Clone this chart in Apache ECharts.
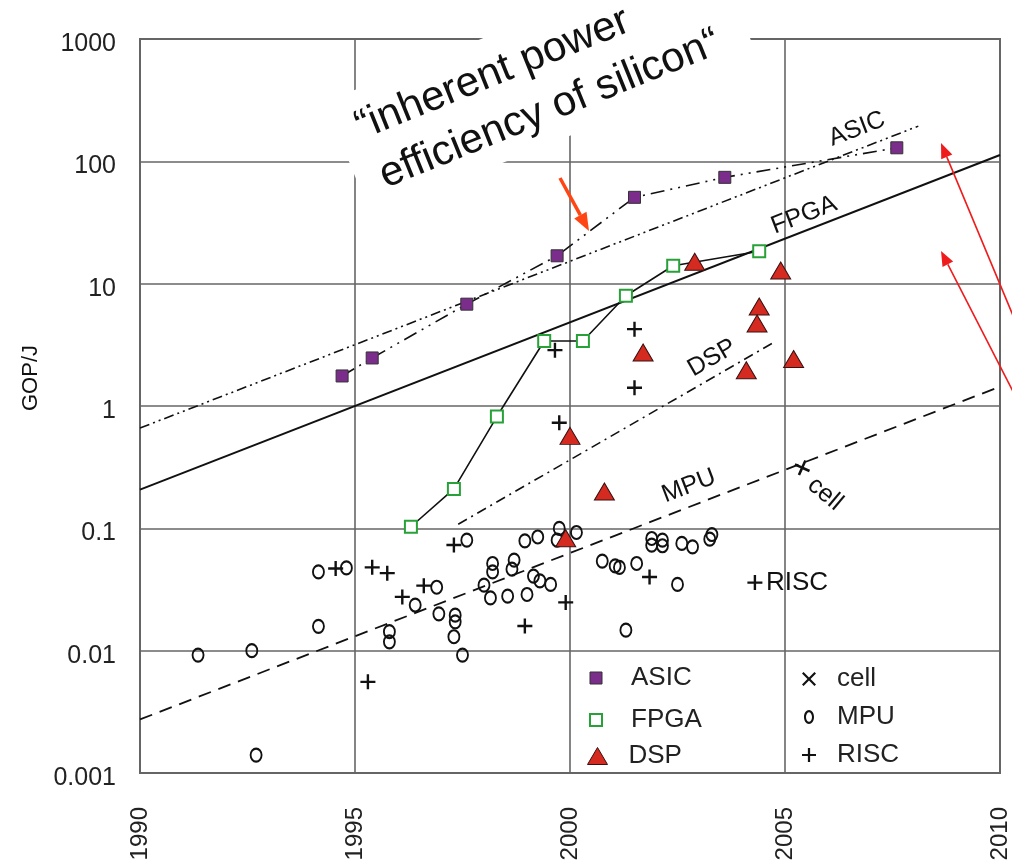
<!DOCTYPE html>
<html>
<head>
<meta charset="utf-8">
<script src="https://cdn.jsdelivr.net/npm/echarts@6/dist/echarts.min.js"></script>
<style>
html, body { margin: 0; padding: 0; background: #fff; }
#chart { width: 1012px; height: 867px; }
</style>
</head>
<body>
<div id="chart"></div>
<script>
// [year, GOP/J]
const asicPts = [[1994.7, 1.76], [1995.4, 2.47], [1997.6, 6.8], [1999.7, 16.9], [2001.5, 50.8], [2003.6, 74], [2007.6, 129]];
const fpgaPts = [[1996.3, 0.103], [1997.3, 0.21], [1998.3, 0.82], [1999.4, 3.4], [2000.3, 3.4], [2001.3, 7.96], [2002.4, 14], [2004.4, 18.4]];
const dspPts = [[2002.9, 15.1], [2004.9, 12.8], [2004.4, 6.5], [2004.35, 4.73], [2001.7, 2.74], [2005.2, 2.42],
    [2004.1, 1.96], [2000.0, 0.57], [2000.8, 0.2], [1999.9, 0.083]];
const mpuPts = [[1991.35, 0.0092], [1992.6, 0.0100], [1992.7, 0.0014], [1994.15, 0.044], [1994.8, 0.0475], [1994.15, 0.0158],
    [1995.8, 0.0143], [1995.8, 0.0118], [1996.4, 0.0236], [1996.9, 0.033], [1996.95, 0.020], [1997.33, 0.0195],
    [1997.33, 0.0172], [1997.3, 0.013], [1997.5, 0.0092], [1997.6, 0.080], [1998.95, 0.079], [1999.25, 0.085],
    [1999.75, 0.0998], [1999.7, 0.080], [2000.15, 0.0925], [1998.2, 0.0516], [1998.2, 0.044], [1998.7, 0.055],
    [1998.65, 0.0464], [1998.0, 0.0343], [1998.15, 0.027], [1998.55, 0.0279], [1999.0, 0.0288], [1999.15, 0.0407],
    [1999.3, 0.0372], [1999.55, 0.0348], [2001.9, 0.0826], [2001.9, 0.0729], [2002.15, 0.080], [2002.15, 0.072],
    [2002.6, 0.0753], [2002.85, 0.0706], [2003.3, 0.089], [2003.25, 0.0816], [2000.75, 0.054], [2001.05, 0.0494],
    [2001.15, 0.0479], [2001.55, 0.0516], [2002.5, 0.0348], [2001.3, 0.0147]];
const riscPts = [[1999.65, 2.86], [1999.75, 0.73], [2001.5, 4.25], [2001.5, 1.41], [1997.3, 0.073], [1994.55, 0.047],
    [1995.4, 0.048], [1995.75, 0.043], [1996.6, 0.034], [1996.1, 0.0275], [1998.95, 0.0159], [1999.9, 0.0248],
    [1995.3, 0.00556], [2001.85, 0.040], [2004.3, 0.036]];
const cellPts = [[2005.4, 0.313]];

// trend lines, end points
const asicTrend = [[1990, 0.66], [2008.1, 194]];
const fpgaTrend = [[1990, 0.207], [2010, 112.7]];
const dspTrend = [[1997.4, 0.108], [2004.7, 3.25]];
const mpuTrend = [[1990, 0.00274], [2010, 1.44]];

const yearTicks = [1990, 1995, 2000, 2005, 2010];
const gopTicks = ['0.001', '0.01', '0.1', '1', '10', '100', '1000'];

const FONT = '"Liberation Sans", Arial, Helvetica, sans-serif';
const INK = '#111';
const PURPLE = '#7b2d8c';
const GREEN = '#27a138';
const RED = '#d42a20';

const plusPath = 'path://M4.2,0H5.8V4.2H10V5.8H5.8V10H4.2V5.8H0V4.2H4.2Z';
const xPath = 'path://M0,1.1L1.1,0L5,3.9L8.9,0L10,1.1L6.1,5L10,8.9L8.9,10L5,6.1L1.1,10L0,8.9L3.9,5Z';
const sqPath = 'path://M0,0H10V10H0Z';
const triPath = 'path://M10,0L20,17H0Z';
const ringPath = 'path://M5,0C7.8,0 10,3 10,7C10,11 7.8,14 5,14C2.2,14 0,11 0,7C0,3 2.2,0 5,0ZM5,2.2C3.5,2.2 2,4.3 2,7C2,9.7 3.5,11.8 5,11.8C6.5,11.8 8,9.7 8,7C8,4.3 6.5,2.2 5,2.2Z';

function arrow(x1, y1, x2, y2, color, w, len, half) {
    const a = Math.atan2(y2 - y1, x2 - x1);
    const bx = x2 - len * Math.cos(a), by = y2 - len * Math.sin(a);
    const px = -Math.sin(a) * half, py = Math.cos(a) * half;
    return [
        { type: 'line', z: 6, shape: { x1: x1, y1: y1, x2: bx, y2: by }, style: { stroke: color, lineWidth: w } },
        { type: 'polygon', z: 6, shape: { points: [[x2, y2], [bx + px, by + py], [bx - px, by - py]] }, style: { fill: color } }
    ];
}

function label(text, x, y, deg, size, align) {
    return {
        type: 'text', z: 6, x: x, y: y, rotation: deg * Math.PI / 180,
        style: { text: text, fontSize: size, fontFamily: FONT, fill: INK,
            align: align || 'center', textAlign: align || 'center', verticalAlign: 'middle', textVerticalAlign: 'middle' }
    };
}

function trend(name, data, dash, width) {
    return {
        name: name, type: 'line', data: data, symbol: 'none', silent: true, z: 2,
        lineStyle: { color: INK, width: width, type: dash }
    };
}

const calloutFont = { fontSize: 42, fontFamily: FONT, fill: '#111', align: 'left', textAlign: 'left', verticalAlign: 'middle', textVerticalAlign: 'middle' };
const legendText = { fontSize: 26, lineHeight: 26, fontFamily: FONT, color: '#222' };

let chart = echarts.init(document.getElementById('chart'));
let option = {
    animation: false,
    backgroundColor: '#fff',
    grid: { left: 140, right: 12, top: 39, bottom: 94, show: true, borderColor: '#666', borderWidth: 2, backgroundColor: 'transparent' },
    xAxis: {
        type: 'value', min: yearTicks[0], max: yearTicks[yearTicks.length - 1], interval: 5,
        axisLine: { show: false }, axisTick: { show: false },
        splitLine: { show: true, lineStyle: { color: '#666', width: 1.6 } },
        axisLabel: { rotate: 90, margin: 34, fontSize: 24, fontFamily: FONT, color: '#222', formatter: v => String(v) }
    },
    yAxis: {
        type: 'log', logBase: 10, min: 0.001, max: 1000, splitNumber: 6,
        axisLine: { show: false }, axisTick: { show: false }, minorTick: { show: false },
        splitLine: { show: true, lineStyle: { color: '#666', width: 1.6 } },
        axisLabel: { margin: 24, fontSize: 25, fontFamily: FONT, color: '#222',
            rich: { t: { fontSize: 25, fontFamily: FONT, color: '#222', padding: [10, 0, 0, 0] } },
            formatter: v => '{t|' + gopTicks[Math.round(Math.log10(v)) + 3] + '}' }
    },
    legend: [
        {
            data: [
                { name: 'ASIC', icon: sqPath, itemStyle: { color: PURPLE, borderColor: '#333', borderWidth: 1 } },
                { name: 'FPGA', icon: sqPath, itemStyle: { color: '#fff', borderColor: GREEN, borderWidth: 2 } }
            ],
            orient: 'vertical', left: 584, top: 660, itemWidth: 60, itemHeight: 12, itemGap: 16, selectedMode: false,
            textStyle: legendText
        },
        {
            data: [{ name: 'DSP', icon: triPath, itemStyle: { color: RED, borderColor: '#3a1010', borderWidth: 1 } }],
            orient: 'vertical', left: 582, top: 738, itemWidth: 52, itemHeight: 17, selectedMode: false,
            textStyle: legendText
        },
        {
            data: [
                { name: 'cell', icon: xPath, itemStyle: { color: INK, borderWidth: 0 } },
                { name: 'MPU', icon: ringPath, itemStyle: { color: INK, borderWidth: 0 } },
                { name: 'RISC', icon: plusPath, itemStyle: { color: INK, borderWidth: 0 } }
            ],
            orient: 'vertical', left: 797, top: 661, itemWidth: 46, itemHeight: 14, itemGap: 12, selectedMode: false,
            textStyle: legendText
        }
    ],
    series: [
        trend('ASIC trend', asicTrend, [10, 4, 2, 4, 2, 4], 1.6),
        trend('FPGA trend', fpgaTrend, 'solid', 2),
        trend('DSP trend', dspTrend, [10, 5, 2, 5], 1.6),
        trend('MPU trend', mpuTrend, [13, 8], 1.8),
        {
            name: 'MPU', type: 'scatter', data: mpuPts, symbol: 'circle', symbolSize: [11, 13],
            silent: true, z: 3, itemStyle: { color: 'rgba(0,0,0,0)', borderColor: INK, borderWidth: 2, opacity: 1 }
        },
        {
            name: 'RISC', type: 'scatter', data: riscPts, symbol: plusPath, symbolSize: 15, symbolKeepAspect: true,
            silent: true, z: 3, itemStyle: { color: INK, opacity: 1 }
        },
        {
            name: 'cell', type: 'scatter', data: cellPts, symbol: plusPath, symbolSize: 16, symbolRotate: -24,
            silent: true, z: 3, itemStyle: { color: INK, opacity: 1 }
        },
        {
            name: 'ASIC', type: 'line', data: asicPts, symbol: 'rect', symbolSize: 12, showSymbol: true, silent: true, z: 4,
            lineStyle: { color: INK, width: 1.6, type: [14, 6, 2, 6, 2, 6] },
            itemStyle: { color: PURPLE, borderColor: '#333', borderWidth: 1, opacity: 1 }
        },
        {
            name: 'FPGA', type: 'line', data: fpgaPts, symbol: 'rect', symbolSize: 12, showSymbol: true, silent: true, z: 4,
            lineStyle: { color: INK, width: 1.6 },
            itemStyle: { color: '#fff', borderColor: GREEN, borderWidth: 2, opacity: 1 }
        },
        {
            name: 'DSP', type: 'scatter', data: dspPts, symbol: 'triangle', symbolSize: [20, 17], silent: true, z: 5,
            itemStyle: { color: RED, borderColor: '#3a1010', borderWidth: 1, opacity: 1 }
        }
    ],
    graphic: [
        {
            type: 'group', x: 325, y: 102, rotation: 22 * Math.PI / 180, z: 5,
            children: [
                { type: 'rect', z: 5, shape: { x: 0, y: 0, width: 418, height: 123, r: 18 }, style: { fill: '#fff' } },
                { type: 'text', z: 6, x: 20, y: 37, style: Object.assign({ text: '“inherent power' }, calloutFont) },
                { type: 'text', z: 6, x: 24, y: 91, style: Object.assign({ text: 'efficiency of silicon“' }, calloutFont) }
            ]
        },
        label('GOP/J', 31, 378, 90, 22),
        label('ASIC', 857, 129, 21, 25),
        label('FPGA', 804, 215, 21, 25),
        label('DSP', 712, 358, 30, 25),
        label('MPU', 689, 486, 21, 25),
        label('cell', 825, 494, -40, 25),
        label('RISC', 766, 583, 0, 26, 'left')
    ].concat(
        arrow(560, 178, 589, 231, '#ff4513', 3.5, 18, 7),
        arrow(1022, 337, 941, 143, '#ee1c1c', 1.6, 15, 6),
        arrow(1022, 409, 941, 251, '#ee1c1c', 1.6, 15, 6)
    )
};
chart.setOption(option);
</script>
</body>
</html>
